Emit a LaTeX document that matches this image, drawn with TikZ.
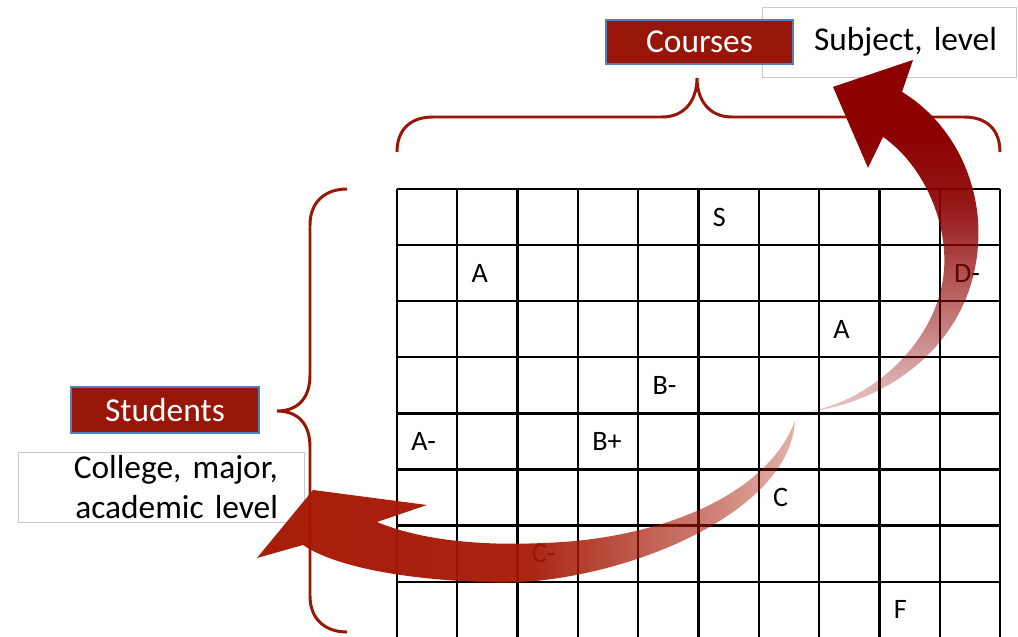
\documentclass[tikz,border=0pt]{standalone}
\usepackage{fontspec}
\setmainfont{Carlito}
\usetikzlibrary{fadings}

\definecolor{labelred}{RGB}{152,22,8}
\definecolor{darkarrow}{RGB}{140,0,0}
\definecolor{redarrow}{RGB}{165,24,4}
\definecolor{boxedge}{RGB}{79,129,189}
\definecolor{lightedge}{RGB}{200,200,200}

% fadings for the two big arrows (black = see-through)
\pgfdeclareverticalshading{fadeupshade}{100bp}{color(0bp)=(black!100); color(15bp)=(black!92);
    color(28bp)=(black!72); color(42bp)=(black!38); color(55bp)=(black!8); color(65bp)=(black!0); color(100bp)=(black!0)}
\pgfdeclarehorizontalshading{fadeleftshade}{100bp}{color(0bp)=(black!0); color(50bp)=(black!5);
    color(66bp)=(black!42); color(78bp)=(black!75); color(88bp)=(black!94); color(100bp)=(black!100)}
\tikzfading[name=fadeup, shade, shading=fadeupshade]
\tikzfading[name=fadeleft, shade, shading=fadeleftshade]

\begin{document}
\begin{tikzpicture}[x=0.02cm, y=-0.02cm,
    tagbox/.style={rectangle, draw=boxedge, line width=0.8pt, fill=labelred, text=white, inner sep=0pt, font=\fontsize{19}{23}\selectfont},
    infobox/.style={rectangle, draw=lightedge, line width=0.5pt, fill=white, align=right, inner ysep=0pt, font=\fontsize{19}{23.2}\selectfont},
    grade/.style={anchor=west, inner sep=0pt, font=\fontsize{16}{19}\selectfont},
    bracket/.style={draw=labelred, line width=1.7pt}
]
\useasboundingbox (0,0) rectangle (1018,636);

% Grid: students x courses
\begin{scope}
\clip (0,0) rectangle (1018,636);
\foreach \i in {0,...,10}
    \draw[line width=1.3pt] (397+60.3*\i,189) -- (397+60.3*\i,640);
\foreach \j in {0,...,8}
    \draw[line width=1.3pt] (397,189+56.1*\j) -- (1000,189+56.1*\j);
\end{scope}

% Grades
\foreach \c/\r/\g [count=\k] in {5/0/S, 1/1/A, 9/1/D-, 7/2/A, 4/3/B-, 0/4/A-, 3/4/B+, 6/5/C, 2/6/C-, 8/7/F}
    \node[grade] (g\k) at (397+60.3*\c+14, 189+56.1*\r+28) {\g};

% Braces
\draw[bracket] (397,152) .. controls (397,130) and (410,117) .. (433,117) -- (662,117)
    .. controls (685,117) and (697,100) .. (697,78)
    .. controls (697,100) and (709,117) .. (732,117) -- (964,117)
    .. controls (987,117) and (1000,130) .. (1000,152);
\draw[bracket] (347,189) .. controls (325,189) and (310,202) .. (310,225) -- (310,375)
    .. controls (310,398) and (298,411) .. (277,411)
    .. controls (298,411) and (310,424) .. (310,447) -- (310,596)
    .. controls (310,619) and (325,632) .. (347,632);

% Labels
\node[infobox, minimum width=5.08cm, minimum height=1.4cm, text width=4.32cm, inner xsep=0.38cm] (subject) at (889,42) {Subject, level};
\node[tagbox, minimum width=3.74cm, minimum height=0.88cm] (courses) at (699.5,42) {Courses};
\node[tagbox, minimum width=3.76cm, minimum height=0.92cm] (students) at (165,410) {Students};
\node[infobox, minimum width=5.72cm, minimum height=1.4cm, text width=4.68cm, inner xsep=0.52cm] (college) at (161,487) {College, major,\\ academic level};

% Arrows
\fill[darkarrow, path fading=fadeup]
    (808,412) .. controls (900,400) and (985,330) .. (978,220)
    .. controls (973,160) and (940,115) .. (902,92)
    -- (913,60) -- (833,87) -- (868,168) -- (883,137)
    .. controls (930,170) and (955,240) .. (940,293)
    .. controls (925,350) and (870,400) .. (808,412) -- cycle;
\fill[redarrow, path fading=fadeleft]
    (795,421) .. controls (790,520) and (600,590) .. (483,582)
    .. controls (420,580) and (340,570) .. (303,545)
    -- (257,558) -- (313,490) -- (427,505) -- (377,522)
    .. controls (420,540) and (480,546) .. (543,543)
    .. controls (650,540) and (765,500) .. (795,421) -- cycle;

\end{tikzpicture}
\end{document}
